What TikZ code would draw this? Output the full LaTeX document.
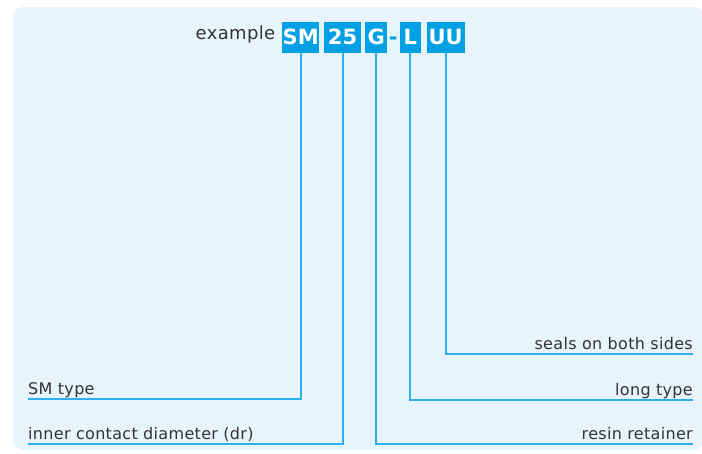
\documentclass[tikz,border=0pt]{standalone}
\usepackage{fontspec}
\setmainfont{DejaVu Sans}
\newfontfamily\lblfont[LetterSpace=2]{DejaVu Sans}
\usetikzlibrary{positioning}
\definecolor{bgpanel}{HTML}{E8F4FC}
\definecolor{boxblue}{HTML}{00A0E4}
\definecolor{lineblue}{HTML}{2EB0F0}
\definecolor{textgray}{HTML}{333333}
\tikzset{
  letter/.style={fill=boxblue, text=white, inner sep=0pt, minimum height=30.6pt,
    text height=15.3pt, text depth=0pt, font=\bfseries\fontsize{21}{21}\selectfont},
  dashmark/.style={text=boxblue, inner sep=0pt, font=\bfseries\fontsize{21}{21}\selectfont},
  lead/.style={lineblue, line width=2pt},
  lbl/.style={text=textgray, inner sep=0pt, font=\lblfont\fontsize{16}{16}\selectfont}
}
\begin{document}
\begin{tikzpicture}[x=1pt,y=-1pt]
    \useasboundingbox (0,0) rectangle (702,453);
    % Fond
    \fill[bgpanel, rounded corners=10pt] (13,7) rectangle (704,450);
    % Code
    \node[letter, minimum width=37.5pt, anchor=north west] (sm) at (281.7,21.7) {SM};
    \node[letter, minimum width=37.5pt, right=4pt of sm] (dia) {25};
    \node[letter, minimum width=21.7pt, right=3.6pt of dia] (ret) {G};
    \node[letter, minimum width=21pt, right=12.3pt of ret] (len) {L};
    \node[letter, minimum width=37.7pt, right=5.7pt of len] (seal) {UU};
    \path (ret.base east) -- node[dashmark, anchor=base] (dash) {-} (len.base west);
    \node[lbl, anchor=base east, font=\lblfont\fontsize{18}{18}\selectfont] (ex) at (275.5,39) {example};
    % Lignes et textes
    \foreach \b/\y/\x/\a/\t in {sm/399/28/west/SM type, dia/444/28/west/inner contact diameter (dr),
        ret/444/693/east/resin retainer, len/400/693/east/long type, seal/354/693/east/seals on both sides}
    {
        \coordinate (\b-end) at (\x,\y);
        \draw[lead] (\b.south) |- (\b-end);
        \node[lbl, anchor=base \a] (\b-txt) at (\x,\y-5) {\t};
    }
\end{tikzpicture}
\end{document}
